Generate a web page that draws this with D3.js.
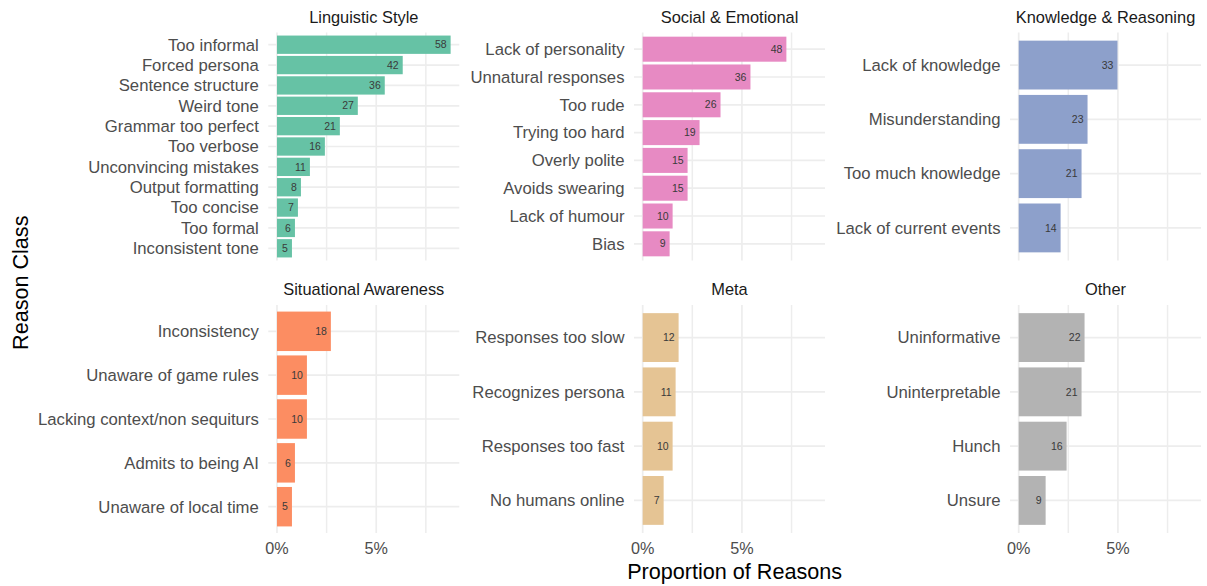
<!DOCTYPE html>
<html><head><meta charset="utf-8">
<script src="https://cdn.jsdelivr.net/npm/d3@7"></script>
<style>
html,body{margin:0;padding:0;background:#fff;}
text{font-family:"Liberation Sans",Arial,sans-serif;}
</style></head>
<body><svg id="chart" width="1207" height="586"></svg>
<script>
const facetNames = ["Linguistic Style","Social & Emotional","Knowledge & Reasoning","Situational Awareness","Meta","Other"];
const facetColors = ["#66C2A5","#E78AC3","#8DA0CB","#FC8D62","#E5C494","#B3B3B3"];

const linguisticLabels = ["Too informal","Forced persona","Sentence structure","Weird tone","Grammar too perfect","Too verbose","Unconvincing mistakes","Output formatting","Too concise","Too formal","Inconsistent tone"];
const linguisticCounts = [58,42,36,27,21,16,11,8,7,6,5];
const socialLabels = ["Lack of personality","Unnatural responses","Too rude","Trying too hard","Overly polite","Avoids swearing","Lack of humour","Bias"];
const socialCounts = [48,36,26,19,15,15,10,9];
const knowledgeLabels = ["Lack of knowledge","Misunderstanding","Too much knowledge","Lack of current events"];
const knowledgeCounts = [33,23,21,14];
const situationalLabels = ["Inconsistency","Unaware of game rules","Lacking context/non sequiturs","Admits to being AI","Unaware of local time"];
const situationalCounts = [18,10,10,6,5];
const metaLabels = ["Responses too slow","Recognizes persona","Responses too fast","No humans online"];
const metaCounts = [12,11,10,7];
const otherLabels = ["Uninformative","Uninterpretable","Hunch","Unsure"];
const otherCounts = [22,21,16,9];

const xTicks = [0, 0.05];
const xTickLabels = ["0%","5%"];
const xMinor = [0.025, 0.075];

const facetLabels = [linguisticLabels, socialLabels, knowledgeLabels, situationalLabels, metaLabels, otherLabels];
const facetCounts = [linguisticCounts, socialCounts, knowledgeCounts, situationalCounts, metaCounts, otherCounts];

const total = d3.sum(facetCounts.flat());
const maxProp = d3.max(facetCounts.flat()) / total;

const svg = d3.select("#chart");
const colLefts = [268.3, 634, 1010];
const panelW = 191;
const rowTops = [32.5, 305];
const panelH = 228;

const xDomain = [-0.05*maxProp, 1.05*maxProp];
const gridColor = "#EDEDED";

facetNames.forEach((name, i) => {
  const col = i % 3, row = Math.floor(i / 3);
  const left = colLefts[col], top = rowTops[row];
  const g = svg.append("g");
  const x = d3.scaleLinear().domain(xDomain).range([left, left + panelW]);
  const labels = facetLabels[i], counts = facetCounts[i];
  const y = d3.scaleBand().domain(labels).range([top, top + panelH]).paddingInner(0.1).paddingOuter(0.15);

  // grid
  g.selectAll(".minor").data(xMinor).join("line")
    .attr("x1", d => x(d)).attr("x2", d => x(d))
    .attr("y1", top).attr("y2", top + panelH)
    .attr("stroke", gridColor).attr("stroke-width", 1.5);
  g.selectAll(".major").data(xTicks).join("line")
    .attr("x1", d => x(d)).attr("x2", d => x(d))
    .attr("y1", top).attr("y2", top + panelH)
    .attr("stroke", gridColor).attr("stroke-width", 1.7);
  g.selectAll(".hgrid").data(labels).join("line")
    .attr("x1", left).attr("x2", left + panelW)
    .attr("y1", d => y(d) + y.bandwidth()/2).attr("y2", d => y(d) + y.bandwidth()/2)
    .attr("stroke", gridColor).attr("stroke-width", 1.7);

  // bars
  g.selectAll(".bar").data(labels).join("rect")
    .attr("x", x(0))
    .attr("y", d => y(d))
    .attr("width", (d, j) => x(counts[j] / total) - x(0))
    .attr("height", y.bandwidth())
    .attr("fill", facetColors[i]);

  // bar labels
  g.selectAll(".blab").data(labels).join("text")
    .attr("x", (d, j) => x(counts[j] / total) - 4)
    .attr("y", d => y(d) + y.bandwidth()/2)
    .attr("dy", "0.35em")
    .attr("text-anchor", "end")
    .attr("font-size", 10.5)
    .attr("fill", "#3a3a3a")
    .text((d, j) => counts[j]);

  // y axis labels
  g.selectAll(".ylab").data(labels).join("text")
    .attr("x", left - 9.5)
    .attr("y", d => y(d) + y.bandwidth()/2)
    .attr("dy", "0.35em")
    .attr("text-anchor", "end")
    .attr("font-size", 16.7)
    .attr("fill", "#4D4D4D")
    .text(d => d);

  // strip title
  g.append("text")
    .attr("x", left + panelW/2)
    .attr("y", top - 10)
    .attr("text-anchor", "middle")
    .attr("font-size", 16.4)
    .attr("fill", "#1A1A1A")
    .text(name);

  // x tick labels (bottom row only)
  if (row === 1) {
    g.selectAll(".xlab").data(xTicks).join("text")
      .attr("x", d => x(d))
      .attr("y", top + panelH + 21)
      .attr("text-anchor", "middle")
      .attr("font-size", 16.2)
      .attr("fill", "#4D4D4D")
      .text((d, j) => xTickLabels[j]);
  }
});

svg.append("text")
  .attr("x", (colLefts[0] + colLefts[2] + panelW)/2)
  .attr("y", 578.5)
  .attr("text-anchor", "middle")
  .attr("font-size", 21.6)
  .attr("fill", "#000")
  .text("Proportion of Reasons");

svg.append("text")
  .attr("transform", `translate(28.3,${(rowTops[0] + rowTops[1] + panelH)/2}) rotate(-90)`)
  .attr("text-anchor", "middle")
  .attr("font-size", 21.6)
  .attr("fill", "#000")
  .text("Reason Class");
</script>
</body></html>
